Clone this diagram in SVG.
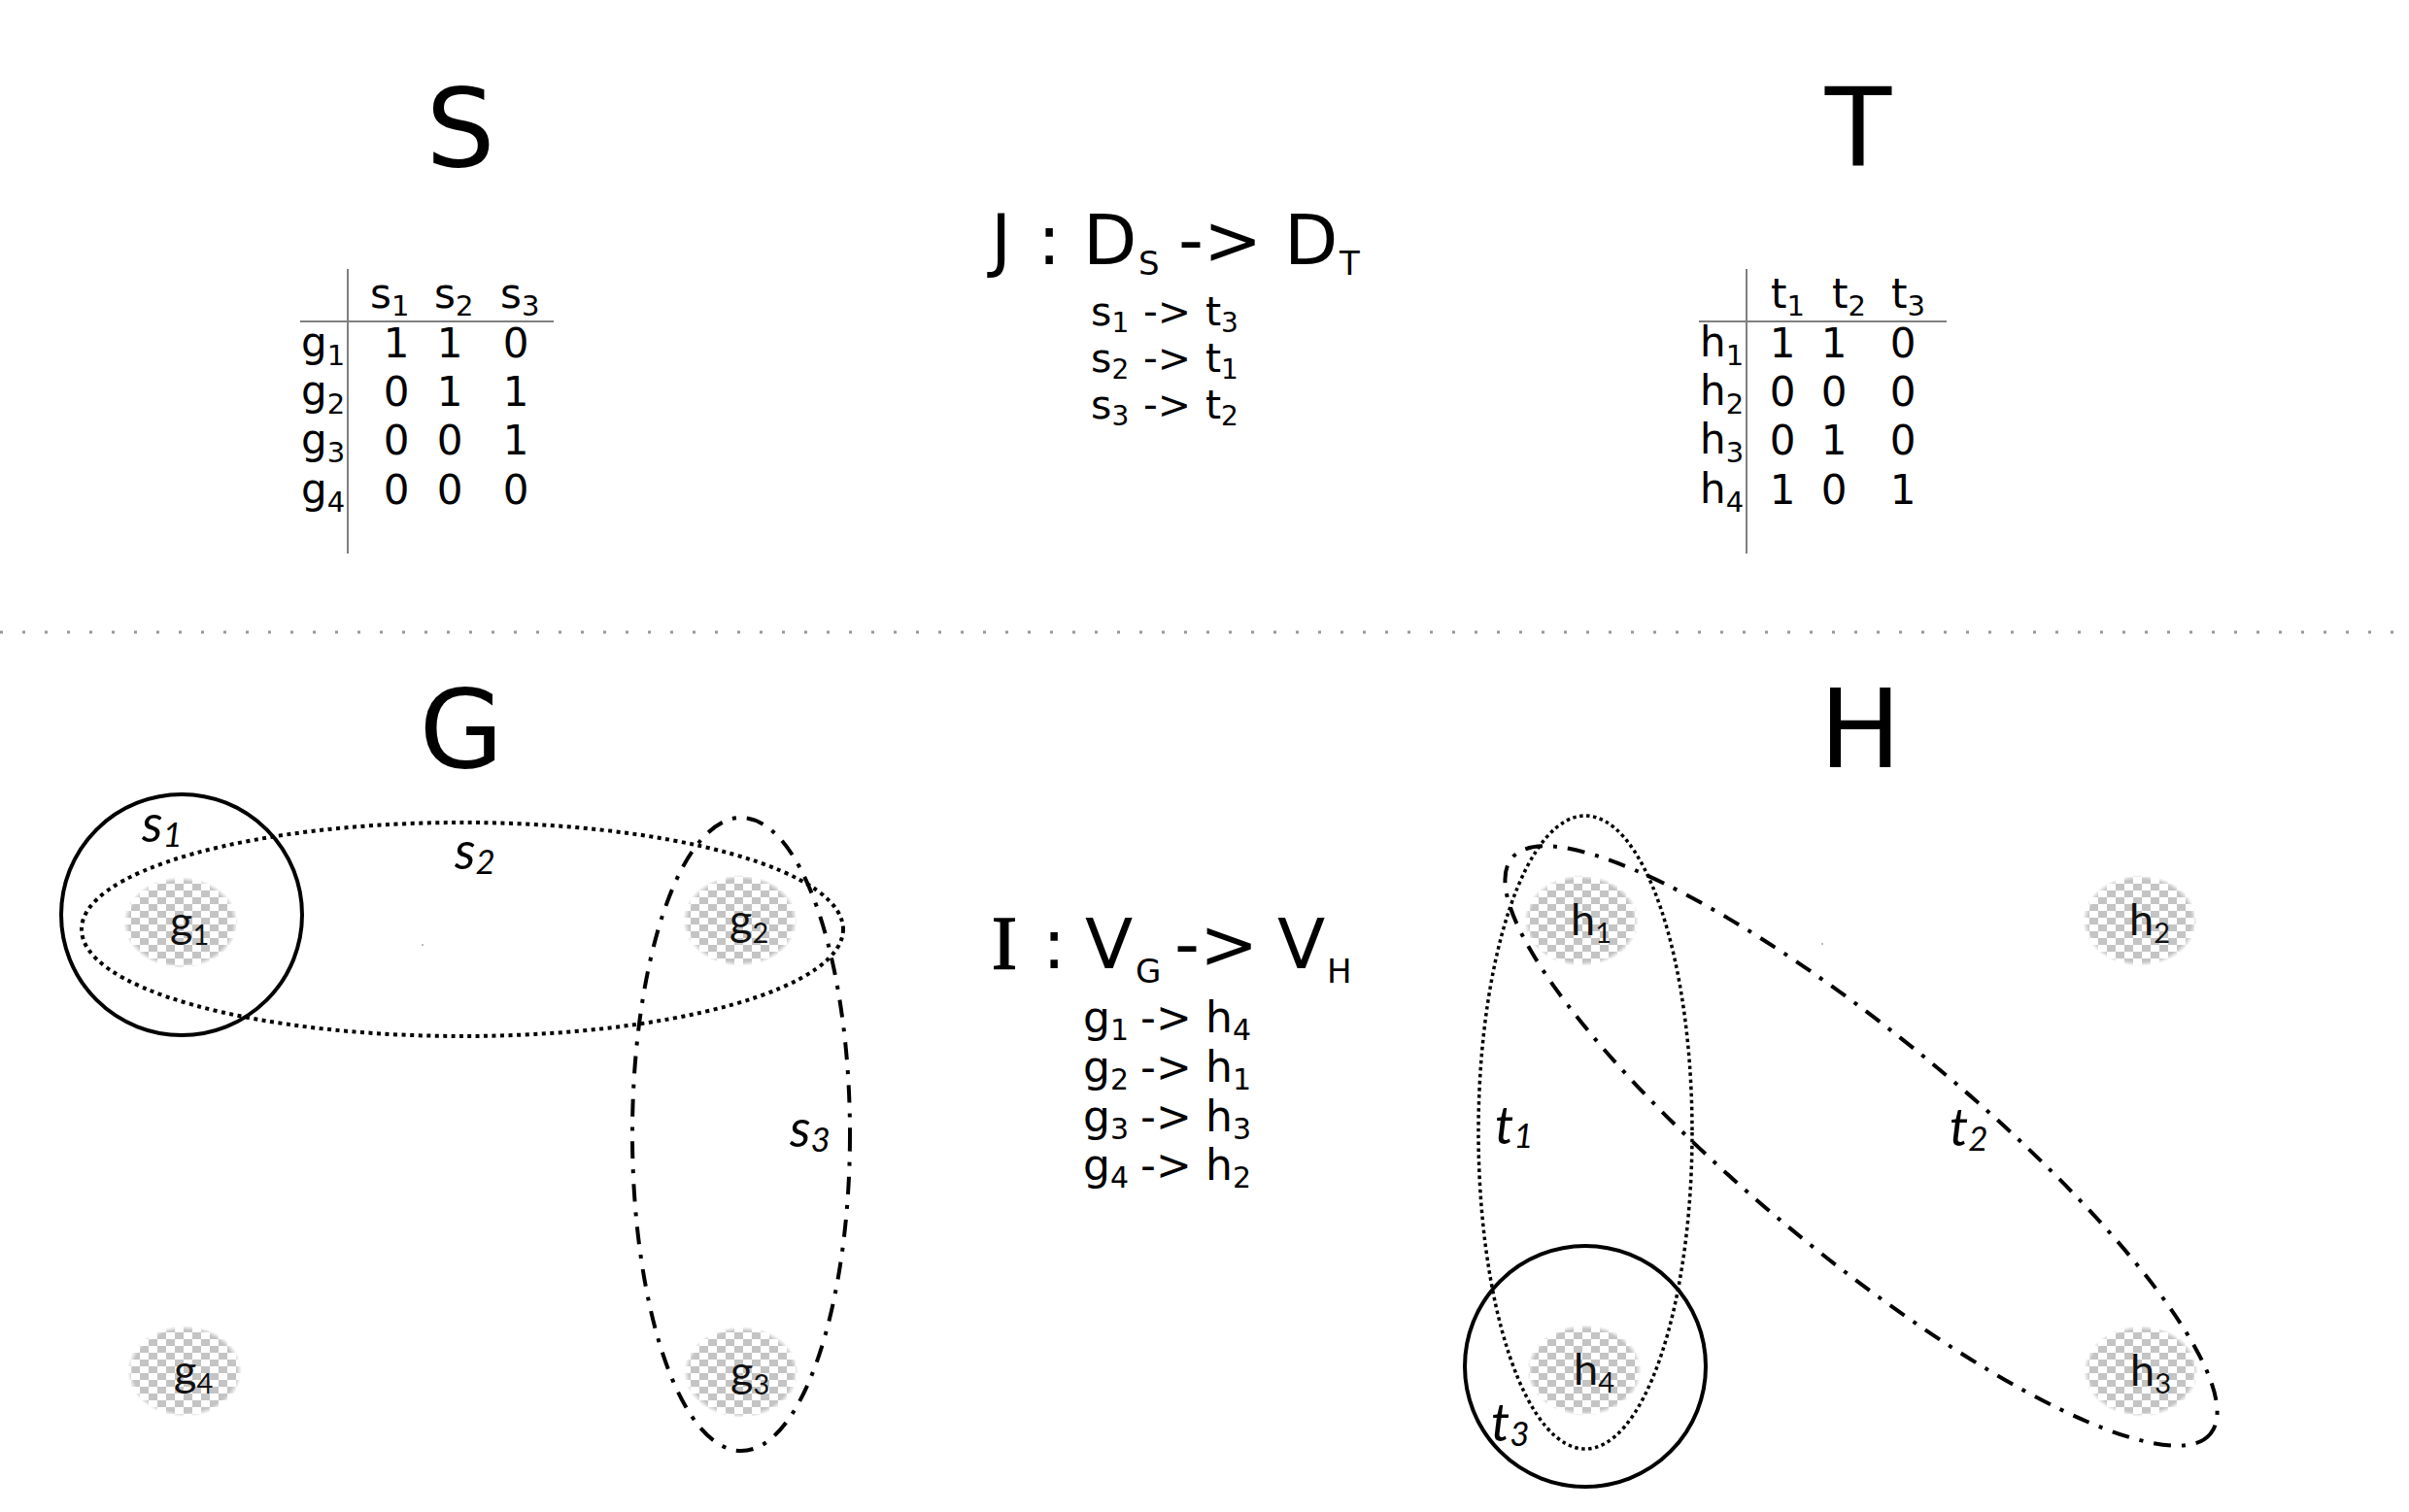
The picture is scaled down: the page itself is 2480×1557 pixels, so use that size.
<svg xmlns="http://www.w3.org/2000/svg" width="2480" height="1557" viewBox="0 0 2480 1557">
<style>
.dv{font-family:"DejaVu Sans","Verdana",sans-serif;fill:#000}
.ttl{font-size:112px;text-anchor:middle}
.tb{font-size:42px}
.tsub{font-size:29px}
.num{text-anchor:middle}
.m1{font-size:41px}
.m1s{font-size:28px}
.m2{font-size:44px}
.m2s{font-size:30px}
.tline{stroke:#808080;stroke-width:2;fill:none}
.nl{font-family:Lato,"Open Sans",sans-serif;font-size:45px;fill:#111}
.nls{font-size:29px}
.el{font-family:Lato,"Open Sans",sans-serif;font-style:italic;font-size:54px;fill:#000}
.els{font-size:35px}
.solid{fill:none;stroke:#000;stroke-width:4}
.dot{fill:none;stroke:#000;stroke-width:4;stroke-dasharray:4 4.5}
.dashdot{fill:none;stroke:#000;stroke-width:4;stroke-dasharray:18 11 4 11}
.blob{fill:url(#chk);mask:url(#fade)}
</style>
<defs>
<pattern id="chk" width="18" height="14" patternUnits="userSpaceOnUse">
<rect width="18" height="14" fill="#ffffff"/>
<rect width="9" height="7" fill="#c4c4c4"/>
<rect x="9" y="7" width="9" height="7" fill="#c4c4c4"/>
</pattern>
<radialGradient id="rg" cx="0.5" cy="0.5" r="0.5">
<stop offset="0.9" stop-color="#fff"/>
<stop offset="1" stop-color="#000"/>
</radialGradient>
<mask id="fade" maskContentUnits="objectBoundingBox">
<rect width="1" height="1" fill="url(#rg)"/>
</mask>
</defs>
<rect width="2480" height="1557" fill="#fff"/>

<!-- titles -->
<text class="dv ttl" x="474" y="171">S</text>
<text class="dv ttl" x="1913" y="171">T</text>
<text class="dv ttl" x="475" y="790">G</text>
<text class="dv ttl" x="1915" y="790">H</text>

<!-- J mapping -->
<text class="dv" font-size="72" y="272"><tspan x="1020">J</tspan><tspan x="1068">:</tspan><tspan x="1115">D</tspan><tspan x="1172" y="283" font-size="34">S</tspan><tspan x="1213" y="272">-&gt;</tspan><tspan x="1322">D</tspan><tspan x="1379" y="283" font-size="34">T</tspan></text>
<text class="dv m1" y="335"><tspan x="1123">s</tspan><tspan class="m1s" dy="7">1</tspan><tspan x="1177" dy="-7">-&gt;</tspan><tspan x="1241">t</tspan><tspan class="m1s" dy="7">3</tspan></text>
<text class="dv m1" y="383"><tspan x="1123">s</tspan><tspan class="m1s" dy="7">2</tspan><tspan x="1177" dy="-7">-&gt;</tspan><tspan x="1241">t</tspan><tspan class="m1s" dy="7">1</tspan></text>
<text class="dv m1" y="431"><tspan x="1123">s</tspan><tspan class="m1s" dy="7">3</tspan><tspan x="1177" dy="-7">-&gt;</tspan><tspan x="1241">t</tspan><tspan class="m1s" dy="7">2</tspan></text>

<!-- I mapping -->
<text class="dv" font-size="72" y="997"><tspan x="1021" font-family="Liberation Serif" font-size="78" stroke="#000" stroke-width="1.6">I</tspan><tspan x="1073">:</tspan><tspan x="1117">V</tspan><tspan x="1169" y="1012" font-size="34">G</tspan><tspan x="1209" y="997">-&gt;</tspan><tspan x="1315">V</tspan><tspan x="1366" y="1012" font-size="34">H</tspan></text>
<text class="dv m2" y="1063"><tspan x="1115">g</tspan><tspan class="m2s" dy="8">1</tspan><tspan x="1174" dy="-8">-&gt;</tspan><tspan x="1241">h</tspan><tspan class="m2s" dy="8">4</tspan></text>
<text class="dv m2" y="1114"><tspan x="1115">g</tspan><tspan class="m2s" dy="8">2</tspan><tspan x="1174" dy="-8">-&gt;</tspan><tspan x="1241">h</tspan><tspan class="m2s" dy="8">1</tspan></text>
<text class="dv m2" y="1165"><tspan x="1115">g</tspan><tspan class="m2s" dy="8">3</tspan><tspan x="1174" dy="-8">-&gt;</tspan><tspan x="1241">h</tspan><tspan class="m2s" dy="8">3</tspan></text>
<text class="dv m2" y="1215"><tspan x="1115">g</tspan><tspan class="m2s" dy="8">4</tspan><tspan x="1174" dy="-8">-&gt;</tspan><tspan x="1241">h</tspan><tspan class="m2s" dy="8">2</tspan></text>

<!-- table S -->
<g id="table-S">
<line class="tline" x1="358" y1="277" x2="358" y2="570"/>
<line class="tline" x1="309" y1="331" x2="570" y2="331"/>
<text class="dv tb" y="317"><tspan x="381">s</tspan><tspan class="tsub" dy="8">1</tspan></text>
<text class="dv tb" y="317"><tspan x="447">s</tspan><tspan class="tsub" dy="8">2</tspan></text>
<text class="dv tb" y="317"><tspan x="515">s</tspan><tspan class="tsub" dy="8">3</tspan></text>
<text class="dv tb" y="367"><tspan x="310">g</tspan><tspan class="tsub" dy="9">1</tspan></text>
<text class="dv tb" y="417"><tspan x="310">g</tspan><tspan class="tsub" dy="9">2</tspan></text>
<text class="dv tb" y="467"><tspan x="310">g</tspan><tspan class="tsub" dy="9">3</tspan></text>
<text class="dv tb" y="518"><tspan x="310">g</tspan><tspan class="tsub" dy="9">4</tspan></text>
<g class="dv tb num">
<text x="408" y="368">1</text><text x="463" y="368">1</text><text x="531" y="368">0</text>
<text x="408" y="418">0</text><text x="463" y="418">1</text><text x="531" y="418">1</text>
<text x="408" y="468">0</text><text x="463" y="468">0</text><text x="531" y="468">1</text>
<text x="408" y="519">0</text><text x="463" y="519">0</text><text x="531" y="519">0</text>
</g>
</g>

<!-- table T -->
<g id="table-T">
<line class="tline" x1="1798" y1="277" x2="1798" y2="570"/>
<line class="tline" x1="1749" y1="331" x2="2004" y2="331"/>
<text class="dv tb" y="317"><tspan x="1823">t</tspan><tspan class="tsub" dy="8">1</tspan></text>
<text class="dv tb" y="317"><tspan x="1886">t</tspan><tspan class="tsub" dy="8">2</tspan></text>
<text class="dv tb" y="317"><tspan x="1947">t</tspan><tspan class="tsub" dy="8">3</tspan></text>
<text class="dv tb" y="367"><tspan x="1750">h</tspan><tspan class="tsub" dy="9">1</tspan></text>
<text class="dv tb" y="417"><tspan x="1750">h</tspan><tspan class="tsub" dy="9">2</tspan></text>
<text class="dv tb" y="467"><tspan x="1750">h</tspan><tspan class="tsub" dy="9">3</tspan></text>
<text class="dv tb" y="518"><tspan x="1750">h</tspan><tspan class="tsub" dy="9">4</tspan></text>
<g class="dv tb num">
<text x="1835" y="368">1</text><text x="1888" y="368">1</text><text x="1959" y="368">0</text>
<text x="1835" y="418">0</text><text x="1888" y="418">0</text><text x="1959" y="418">0</text>
<text x="1835" y="468">0</text><text x="1888" y="468">1</text><text x="1959" y="468">0</text>
<text x="1835" y="519">1</text><text x="1888" y="519">0</text><text x="1959" y="519">1</text>
</g>
</g>

<!-- separator -->
<line x1="0" y1="651" x2="2480" y2="651" stroke="#999" stroke-width="3" stroke-dasharray="3 20"/>

<!-- stray marks -->
<rect x="434" y="972" width="2" height="2" fill="#bbb"/>
<rect x="1875" y="971" width="2" height="2" fill="#bbb"/>

<!-- nodes G -->
<g id="node-g1"><ellipse class="blob" cx="186" cy="950" rx="59" ry="47"/><text class="nl" x="175" y="965">g<tspan class="nls" dy="8">1</tspan></text></g>
<g id="node-g2"><ellipse class="blob" cx="762" cy="948" rx="59" ry="47"/><text class="nl" x="751" y="963">g<tspan class="nls" dy="8">2</tspan></text></g>
<g id="node-g3"><ellipse class="blob" cx="763" cy="1413" rx="59" ry="47"/><text class="nl" x="752" y="1428">g<tspan class="nls" dy="8">3</tspan></text></g>
<g id="node-g4"><ellipse class="blob" cx="190" cy="1412" rx="59" ry="47"/><text class="nl" x="179" y="1427">g<tspan class="nls" dy="8">4</tspan></text></g>

<!-- nodes H -->
<g id="node-h1"><ellipse class="blob" cx="1628" cy="948" rx="59" ry="47"/><text class="nl" x="1617" y="963">h<tspan class="nls" dy="8">1</tspan></text></g>
<g id="node-h2"><ellipse class="blob" cx="2203" cy="948" rx="59" ry="47"/><text class="nl" x="2192" y="963">h<tspan class="nls" dy="8">2</tspan></text></g>
<g id="node-h3"><ellipse class="blob" cx="2204" cy="1412" rx="59" ry="47"/><text class="nl" x="2193" y="1427">h<tspan class="nls" dy="8">3</tspan></text></g>
<g id="node-h4"><ellipse class="blob" cx="1631" cy="1411" rx="59" ry="47"/><text class="nl" x="1620" y="1426">h<tspan class="nls" dy="8">4</tspan></text></g>

<!-- hyperedges -->
<g id="connectors">
<circle class="solid" cx="187" cy="942" r="124"/>
<ellipse class="dot" cx="476" cy="957" rx="392" ry="110"/>
<ellipse class="dashdot" cx="763" cy="1168" rx="112" ry="326"/>
<ellipse class="dot" cx="1632" cy="1166" rx="110" ry="326" style="stroke-width:3.5;stroke-dasharray:3.5 3.5"/>
<circle class="solid" cx="1632" cy="1407" r="124"/>
<ellipse class="dashdot" cx="0" cy="0" rx="466" ry="112" transform="translate(1916 1180) rotate(39.5)"/>
</g>

<!-- hyperedge labels -->
<g id="edge-labels">
<text class="el" x="146" y="867">s<tspan class="els" dy="5">1</tspan></text>
<text class="el" x="468" y="895">s<tspan class="els" dy="5">2</tspan></text>
<text class="el" x="813" y="1181">s<tspan class="els" dy="5">3</tspan></text>
<text class="el" x="1539" y="1178">t<tspan class="els" dy="4">1</tspan></text>
<text class="el" x="2007" y="1180">t<tspan class="els" dy="5">2</tspan></text>
<text class="el" x="1535" y="1484">t<tspan class="els" dy="5">3</tspan></text>
</g>
</svg>
